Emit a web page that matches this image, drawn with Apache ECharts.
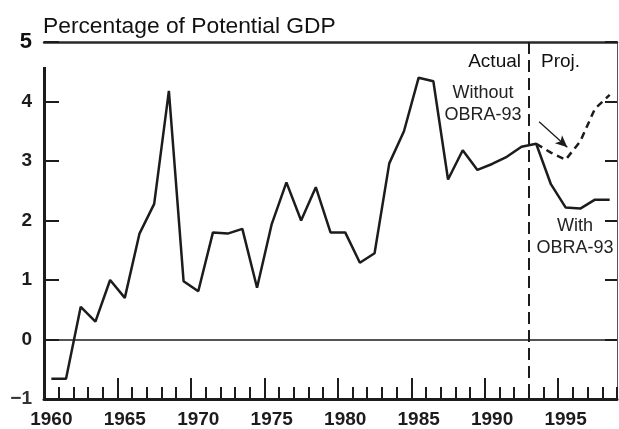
<!DOCTYPE html>
<html>
<head>
<meta charset="utf-8">
<script src="https://cdn.jsdelivr.net/npm/echarts@6/dist/echarts.min.js"></script>
<style>
  html, body { margin: 0; padding: 0; background: #fff; }
  #chart { width: 619px; height: 429px; }
</style>
</head>
<body>
<div id="chart"></div>
<script>
// ---- data ----
const years = [1960,1961,1962,1963,1964,1965,1966,1967,1968,1969,
               1970,1971,1972,1973,1974,1975,1976,1977,1978,1979,
               1980,1981,1982,1983,1984,1985,1986,1987,1988,1989,
               1990,1991,1992,1993,1994,1995,1996,1997,1998];
const withObra = [-0.66,-0.66,0.55,0.30,1.00,0.70,1.78,2.28,4.18,0.98,
                  0.81,1.80,1.78,1.86,0.87,1.94,2.64,2.00,2.56,1.80,
                  1.80,1.29,1.45,2.96,3.50,4.40,4.34,2.69,3.18,2.85,
                  2.95,3.07,3.24,3.29,2.61,2.22,2.20,2.35,2.35];
const withoutYears = [1993,1994,1995,1996,1997,1998];
const withoutObra = [3.29,3.14,3.02,3.33,3.88,4.11];
const tickLabels = [1960,1965,1970,1975,1980,1985,1990,1995];
const minorTicks = [1961,1962,1963,1964,1966,1967,1968,1969,1971,1972,1973,1974,
                    1976,1977,1978,1979,1981,1982,1983,1984,1986,1987,1988,1989,
                    1991,1992,1993,1994,1996,1997,1998,1999];
const majorTicks = [1965,1970,1975,1980,1985,1990,1995];
const projStart = 1993;

const ink = '#1c1c1c';
const font = '"Liberation Sans", Arial, Helvetica, sans-serif';

const chart = echarts.init(document.getElementById('chart'), null, {renderer: 'canvas'});

const baseX = {type: 'value', min: 1960, max: 1999, splitLine: {show: false}};

const option = {
  animation: false,
  backgroundColor: '#ffffff',
  textStyle: {fontFamily: font},
  grid: {left: 44, right: 2, top: 42, bottom: 29, containLabel: false},
  xAxis: [
    Object.assign({}, baseX, {
      position: 'bottom',
      axisLine: {show: true, onZero: false, lineStyle: {color: ink, width: 3}},
      axisTick: {show: true, inside: true, length: 12, customValues: minorTicks,
                 lineStyle: {color: ink, width: 2}},
      axisLabel: {show: false}
    }),
    Object.assign({}, baseX, {
      position: 'bottom',
      axisLine: {show: false, onZero: false},
      axisTick: {show: true, inside: true, length: 21, customValues: majorTicks,
                 lineStyle: {color: ink, width: 2}},
      axisLabel: {show: true, customValues: tickLabels.map(y => y + 0.5),
                  formatter: v => String(Math.floor(v)),
                  color: ink, fontFamily: font, fontWeight: 'bold', fontSize: 19, margin: 11}
    }),
    Object.assign({}, baseX, {
      position: 'top',
      axisLine: {show: true, onZero: false, lineStyle: {color: '#2a2a2a', width: 2.5}},
      axisTick: {show: false},
      axisLabel: {show: false}
    })
  ],
  yAxis: [
    {
      type: 'value', min: -1, max: 5, interval: 1, position: 'left',
      splitLine: {show: false},
      axisLine: {show: false},
      axisTick: {show: true, inside: true, length: 15, lineStyle: {color: ink, width: 2}},
      axisLabel: {
        color: ink, margin: 12,
        formatter: v => v === 5 ? '{big|5}' : (v < 0 ? '{neg|−' + Math.abs(v) + '}' : '{n|' + v + '}'),
        rich: {
          big: {fontFamily: font, fontWeight: 'bold', fontSize: 22, color: '#111'},
          n: {fontFamily: font, fontWeight: 'bold', fontSize: 19, color: ink},
          neg: {fontFamily: font, fontWeight: 'bold', fontSize: 19, color: '#333'}
        }
      }
    },
    {
      type: 'value', min: -1, max: 5, interval: 1, position: 'right',
      splitLine: {show: false},
      axisLine: {show: true, lineStyle: {color: '#555', width: 1}},
      axisTick: {show: true, inside: true, length: 12, lineStyle: {color: ink, width: 2}},
      axisLabel: {show: false}
    }
  ],
  title: {
    text: 'Percentage of Potential GDP',
    left: 38, top: 10,
    textStyle: {fontFamily: font, fontWeight: 'normal', fontSize: 22.8, color: '#111'}
  },
  graphic: [
    {type: 'text', x: 521, y: 62, style: {text: 'Actual', font: '19px ' + font, fill: '#111', textAlign: 'right', textVerticalAlign: 'middle'}},
    {type: 'text', x: 541, y: 62, style: {text: 'Proj.', font: '19px ' + font, fill: '#111', textAlign: 'left', textVerticalAlign: 'middle'}},
    {type: 'text', x: 483, y: 93, style: {text: 'Without', font: '18px ' + font, fill: '#222', textAlign: 'center', textVerticalAlign: 'middle'}},
    {type: 'text', x: 483, y: 115, style: {text: 'OBRA-93', font: '18px ' + font, fill: '#222', textAlign: 'center', textVerticalAlign: 'middle'}},
    {type: 'text', x: 575, y: 226, style: {text: 'With', font: '18px ' + font, fill: '#222', textAlign: 'center', textVerticalAlign: 'middle'}},
    {type: 'text', x: 575, y: 248, style: {text: 'OBRA-93', font: '18px ' + font, fill: '#222', textAlign: 'center', textVerticalAlign: 'middle'}}
  ],
  series: [
    {
      name: 'With OBRA-93',
      type: 'line',
      xAxisIndex: 0, yAxisIndex: 0,
      data: years.map((y, i) => [y + 0.5, withObra[i]]),
      symbol: 'none',
      lineStyle: {color: ink, width: 2.5},
      z: 5,
      markLine: {
        silent: true, symbol: ['none', 'none'], label: {show: false},
        animation: false,
        data: [
          [{coord: [1960, 0], lineStyle: {color: ink, width: 1.5, type: 'solid'}},
           {coord: [1999, 0]}],
          [{coord: [1960, -1], lineStyle: {color: ink, width: 3, type: 'solid'}},
           {coord: [1960, 4.58]}],
          [{coord: [projStart, 5], lineStyle: {color: ink, width: 2, type: [12, 6]}},
           {coord: [projStart, -1]}]
        ]
      }
    },
    {
      name: 'Without OBRA-93',
      type: 'line',
      xAxisIndex: 0, yAxisIndex: 0,
      data: withoutYears.map((y, i) => [y + 0.5, withoutObra[i]]),
      symbol: 'none',
      lineStyle: {color: ink, width: 2.5, type: [7, 5]},
      z: 4,
      markLine: {
        silent: true, label: {show: false}, animation: false,
        symbol: ['none', 'arrow'], symbolSize: [8, 12],
        data: [
          [{coord: [1993.7, 3.66], lineStyle: {color: ink, width: 1.3, type: 'solid'}},
           {coord: [1995.62, 3.23]}]
        ]
      }
    }
  ]
};
chart.setOption(option);
</script>
</body>
</html>
